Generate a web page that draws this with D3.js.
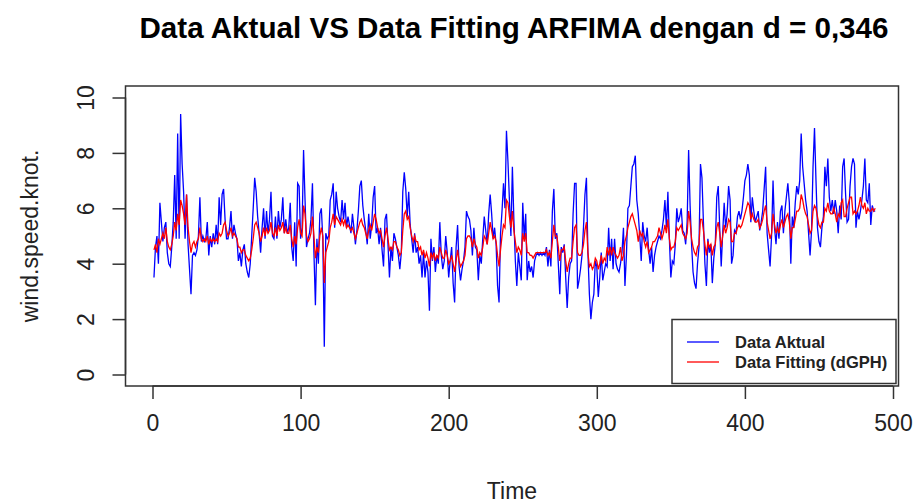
<!DOCTYPE html>
<html><head><meta charset="utf-8">
<script src="https://cdn.jsdelivr.net/npm/d3@7/dist/d3.min.js"></script>
<style>body{margin:0;background:#fff}svg{display:block}text{font-family:"Liberation Sans",Arial,sans-serif}</style>
</head><body>
<script>
const titleText = "Data Aktual VS Data Fitting ARFIMA dengan d = 0,346";
const xLabel = "Time";
const yLabel = "wind.speed.knot.";
const xTicks = [0, 100, 200, 300, 400, 500];
const yTicks = [0, 2, 4, 6, 8, 10];
const legendLabels = ["Data Aktual", "Data Fitting (dGPH)"];

const aktual = [
3.5,4.6,5.0,4.0,6.2,5.5,4.8,5.3,5.5,4.4,4.0,3.9,4.6,5.5,7.2,4.9,8.7,4.9,9.4,7.6,
6.6,4.9,6.5,4.7,3.8,2.9,4.3,4.4,4.3,4.5,5.0,6.4,4.8,5.0,4.8,4.9,5.5,4.3,5.0,4.6,
5.1,4.7,5.4,4.7,6.4,5.4,
6.5,6.7,5.6,4.9,4.9,5.3,5.9,4.9,5.4,5.1,4.9,4.1,4.4,3.9,4.5,4.7,4.0,3.7,3.5,4.0,
5.0,6.0,7.1,6.6,5.7,5.1,4.4,5.3,6.0,4.9,5.9,5.1,5.6,6.6,5.0,4.9,5.7,4.9,5.9,5.3,
5.6,6.4,5.1,5.6,5.1,5.3,6.2,4.6,4.1,5.5,
3.9,6.9,6.8,4.9,5.3,8.1,6.3,4.6,4.9,5.1,5.6,6.9,4.4,2.5,4.9,4.0,5.8,6.0,4.9,1.0,
5.1,4.9,5.0,6.3,6.5,6.9,5.3,6.6,6.0,5.7,5.5,6.3,5.6,6.2,5.3,5.7,5.4,5.1,5.8,5.3,
4.7,5.2,5.9,6.8,7.0,6.1,5.6,5.2,4.7,5.8,
4.9,5.4,6.4,6.8,5.1,5.3,4.7,5.3,4.5,3.9,5.6,5.8,4.7,3.5,4.6,4.1,5.1,4.9,4.6,4.3,
3.8,4.4,6.6,7.3,6.7,5.7,6.6,5.4,4.9,4.4,5.1,4.4,4.6,4.0,4.3,3.5,4.4,3.5,4.1,3.7,
2.3,4.9,4.1,4.6,3.7,4.3,4.0,5.5,4.3,3.8,
4.1,5.0,4.4,3.5,4.1,4.6,3.3,2.6,4.6,5.4,3.9,3.4,3.8,4.1,4.6,5.9,5.7,5.6,5.2,4.3,
5.3,4.6,4.5,3.4,4.3,4.0,4.9,5.7,5.2,4.7,5.8,6.5,5.8,4.9,5.3,4.7,3.2,2.6,5.1,5.9,
6.9,6.0,8.8,7.7,6.3,5.0,7.5,5.6,4.1,3.2,
4.4,3.9,3.4,6.2,4.9,5.8,3.4,4.1,3.7,3.9,3.5,4.1,4.3,4.4,4.3,4.4,4.3,4.4,4.3,4.6,
3.9,4.5,3.9,5.9,6.7,4.9,5.1,4.0,2.9,4.6,4.4,4.7,3.5,2.4,3.5,4.0,4.1,5.8,6.9,6.9,
3.1,3.4,3.8,4.3,5.3,6.5,7.1,4.4,2.9,2.0,
2.6,2.9,4.1,3.9,2.8,3.5,4.4,3.4,3.7,4.0,3.9,5.3,4.1,4.9,3.8,4.9,4.0,3.8,3.7,4.0,
4.4,5.3,3.2,4.3,6.0,6.1,6.8,7.5,7.6,7.9,6.3,5.8,5.0,4.1,5.5,5.0,4.8,5.3,4.5,4.0,
4.6,3.7,4.3,4.6,4.8,5.0,4.9,5.2,5.6,6.3,
5.3,6.6,4.9,3.5,4.1,4.0,4.7,6.0,5.5,5.7,6.0,5.2,5.1,4.7,5.5,8.1,6.1,4.7,3.7,3.3,
3.1,4.0,4.6,7.6,7.1,5.5,4.0,3.2,4.9,4.4,4.7,3.3,4.2,4.7,6.4,6.8,5.3,3.9,5.1,6.2,
5.3,5.8,6.8,6.3,4.0,4.3,5.2,5.1,5.7,5.9,
5.6,5.9,6.4,7.0,7.2,7.6,7.2,5.5,6.4,5.9,5.5,5.7,5.9,5.2,5.5,5.9,6.7,7.5,5.1,4.5,
3.9,5.0,7.0,5.3,4.7,5.5,4.9,5.9,6.1,5.1,5.9,6.4,6.9,6.2,4.0,5.7,5.3,6.2,6.8,6.5,
7.0,8.7,7.5,6.9,6.3,5.9,5.1,4.3,5.2,7.5,
8.9,7.0,5.3,4.8,4.6,5.3,5.7,7.5,6.8,7.8,6.4,5.9,6.3,5.8,6.3,5.9,5.1,6.1,5.6,7.5,
7.8,6.5,5.5,5.6,6.8,7.5,7.8,7.6,5.3,5.9,5.6,5.9,6.3,6.8,7.8,6.3,6.2,6.9,5.4,6.1,
5.9,5.9
];

const fitting = [
4.5,4.7,4.4,4.9,4.7,4.9,5.1,4.9,5.3,4.8,4.6,4.5,4.7,5.0,5.5,5.2,5.8,5.4,6.3,6.1,
5.8,5.4,6.5,5.3,4.8,4.4,4.7,4.8,4.6,4.8,4.9,5.3,4.9,4.8,4.9,4.8,5.0,4.7,4.9,4.8,
4.9,4.8,4.9,4.8,5.1,5.0,
5.1,5.4,5.5,5.2,5.0,5.1,5.3,5.0,5.1,5.0,4.9,4.6,4.6,4.4,4.5,4.5,4.3,4.2,4.1,4.2,
4.5,4.9,5.4,5.5,5.3,5.1,4.8,5.0,5.3,5.0,5.3,5.1,5.2,5.5,5.1,5.0,5.3,5.0,5.4,5.2,
5.3,5.5,5.1,5.3,5.1,5.1,5.4,4.9,4.6,5.0,
4.7,5.3,5.6,5.1,5.0,6.1,5.8,5.0,4.8,4.9,5.1,5.7,5.0,4.2,4.6,4.4,5.0,5.3,5.0,3.3,
4.4,4.6,4.8,5.3,5.5,5.8,5.4,5.7,5.6,5.5,5.4,5.6,5.4,5.6,5.3,5.4,5.3,5.2,5.3,5.1,
4.9,5.1,5.3,5.5,5.6,5.4,5.3,5.1,4.9,5.2,
5.4,5.2,5.5,5.8,5.6,5.3,5.1,5.2,4.9,4.6,5.0,5.3,4.9,4.5,4.6,4.5,4.8,4.8,4.6,4.5,
4.3,4.4,5.2,5.8,5.9,5.6,5.7,5.3,5.0,4.8,5.0,4.8,4.8,4.5,4.6,4.3,4.5,4.2,4.4,4.2,
3.9,4.4,4.2,4.4,4.1,4.3,4.2,4.6,4.4,4.2,
4.2,4.5,4.3,4.0,4.1,4.3,4.0,3.7,4.1,4.5,4.1,3.9,4.0,4.1,4.3,4.9,5.0,5.0,4.9,4.6,
4.9,4.7,4.6,4.2,4.4,4.3,4.6,5.0,4.9,4.7,5.1,5.5,5.2,4.9,5.0,4.8,4.3,3.9,4.5,5.0,
5.4,5.3,6.3,6.2,5.7,5.3,5.9,5.2,4.8,4.4,
4.6,4.5,4.3,5.1,4.8,5.1,4.4,4.4,4.3,4.3,4.2,4.3,4.4,4.4,4.4,4.4,4.4,4.4,4.4,4.5,
4.3,4.4,4.2,4.8,5.4,5.0,5.0,4.6,4.1,4.5,4.5,4.6,4.1,3.7,4.0,4.2,4.2,4.8,5.3,5.4,
4.4,4.3,4.3,4.4,4.7,5.2,5.5,4.4,3.9,4.0,
3.8,3.9,4.2,4.1,3.8,4.0,4.3,4.0,4.2,4.1,4.6,4.3,4.6,4.3,4.6,4.4,4.3,4.2,4.3,4.6,
4.1,4.3,4.8,5.0,5.3,5.5,5.7,5.8,5.6,5.4,5.2,4.8,5.2,5.0,5.1,4.8,4.6,4.8,4.4,4.5,
4.6,4.8,4.8,4.9,5.0,5.3,5.1,4.9,5.1,5.4,
5.1,5.6,4.9,4.5,4.6,4.6,4.8,5.3,5.2,5.3,5.4,5.1,5.0,4.9,5.1,5.9,5.5,4.9,4.6,4.4,
4.3,4.6,4.7,5.6,5.6,5.2,4.7,4.3,4.8,4.6,4.7,4.3,4.6,4.7,5.3,5.5,5.1,4.6,5.0,5.4,
5.1,5.3,5.6,5.5,4.8,4.8,5.1,5.1,5.3,5.4,
5.3,5.4,5.6,5.8,6.0,6.2,6.1,5.6,5.8,5.6,5.5,5.5,5.6,5.3,5.4,5.6,5.9,6.1,5.5,5.2,
4.9,5.1,5.8,5.4,5.1,5.3,5.1,5.4,5.6,5.3,5.5,5.7,5.8,5.5,4.9,5.3,5.3,5.6,5.9,5.9,
6.0,6.5,6.3,6.0,5.8,5.7,5.4,5.1,5.2,5.9,
6.1,6.0,5.7,5.4,5.3,5.5,5.5,6.0,5.9,6.2,5.9,5.8,5.8,6.0,5.8,5.5,5.8,5.7,6.2,6.3,
5.7,5.7,6.0,6.2,6.4,6.4,5.8,5.9,5.8,5.9,6.1,6.4,6.1,6.0,6.2,5.8,6.0,5.9,5.9,6.0,
5.9,6.0
];

const W = 917, H = 504;
const box = {left: 125.5, right: 898.5, top: 86, bottom: 386};
const svg = d3.select("body").append("svg").attr("width", W).attr("height", H);

const x = d3.scaleLinear().domain([0, 500]).range([152.5, 893]);
const y = d3.scaleLinear().domain([0, 10]).range([374.5, 97.5]);

// title
svg.append("text").attr("x", (box.left + box.right) / 2 + 2).attr("y", 38)
  .attr("text-anchor", "middle").attr("font-weight", "bold").attr("font-size", 29.6)
  .attr("fill", "#000").text(titleText);

// series
const line = d3.line().x((d, i) => x(i + 1)).y(d => y(d));
svg.append("path").datum(aktual).attr("d", line)
  .attr("fill", "none").attr("stroke", "#0000FF").attr("stroke-width", 1.3);
svg.append("path").datum(fitting).attr("d", line)
  .attr("fill", "none").attr("stroke", "#FF0000").attr("stroke-width", 1.3);

// box
svg.append("rect").attr("x", box.left).attr("y", box.top)
  .attr("width", box.right - box.left).attr("height", box.bottom - box.top)
  .attr("fill", "none").attr("stroke", "#333").attr("stroke-width", 1.5);

// x axis
const xAxis = d3.axisBottom(x).tickValues(xTicks).tickSize(13).tickPadding(16).tickFormat(d3.format("d"));
const gx = svg.append("g").attr("transform", `translate(0,${box.bottom})`).call(xAxis);
gx.select(".domain").attr("d", `M${x(0)},0H${x(500)}`).attr("stroke", "#333").attr("stroke-width", 1.5);
gx.selectAll(".tick line").attr("stroke", "#333").attr("stroke-width", 1.5);
gx.selectAll(".tick text").attr("font-size", 23).attr("fill", "#222")
  .attr("font-family", '"Liberation Sans",Arial,sans-serif');

// y axis
const yAxis = d3.axisLeft(y).tickValues(yTicks).tickSize(13).tickPadding(10).tickFormat(d3.format("d"));
const gy = svg.append("g").attr("transform", `translate(${box.left},0)`).call(yAxis);
gy.select(".domain").attr("d", `M0,${y(0)}V${y(10)}`).attr("stroke", "#333").attr("stroke-width", 1.5);
gy.selectAll(".tick line").attr("stroke", "#333").attr("stroke-width", 1.5);
gy.selectAll(".tick text").attr("font-size", 23).attr("fill", "#222")
  .attr("font-family", '"Liberation Sans",Arial,sans-serif')
  .attr("text-anchor", "middle").attr("dy", null)
  .attr("transform", function() { return `translate(-40,0) rotate(-90)`; })
  .attr("x", 0).attr("y", 0).attr("dominant-baseline", "central");

// axis labels
svg.append("text").attr("x", (box.left + box.right) / 2).attr("y", 499)
  .attr("text-anchor", "middle").attr("font-size", 23).attr("fill", "#222").text(xLabel);
svg.append("text").attr("transform", `translate(38,${(box.top + box.bottom) / 2}) rotate(-90)`)
  .attr("text-anchor", "middle").attr("font-size", 23).attr("fill", "#222").text(yLabel);

// legend
const lg = {x: 672, y: 319.5, w: 224, h: 64};
svg.append("rect").attr("x", lg.x).attr("y", lg.y).attr("width", lg.w).attr("height", lg.h)
  .attr("fill", "#fff").attr("stroke", "#333").attr("stroke-width", 1.5);
const legColors = ["#0000FF", "#FF0000"];
legendLabels.forEach((lab, i) => {
  const cy = 342 + i * 20;
  svg.append("line").attr("x1", 687).attr("x2", 719).attr("y1", cy).attr("y2", cy)
    .attr("stroke", legColors[i]).attr("stroke-width", 1.3);
  svg.append("text").attr("x", 735).attr("y", cy).attr("dominant-baseline", "central")
    .attr("font-size", 16.5).attr("font-weight", "bold").attr("fill", "#222").text(lab);
});
</script>
</body></html>
